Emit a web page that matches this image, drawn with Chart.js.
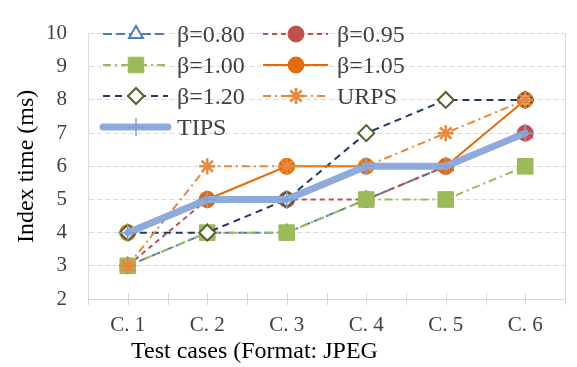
<!DOCTYPE html>
<html>
<head>
<meta charset="utf-8">
<script src="https://cdn.jsdelivr.net/npm/chart.js@4/dist/chart.umd.min.js"></script>
<style>
  html, body { margin: 0; padding: 0; background: #fff; }
  #wrap { width: 577px; height: 367px; position: relative; }
</style>
</head>
<body>
<div id="wrap"><canvas id="chart"></canvas></div>
<script>
/* ================= DATA ================= */
const categories = ["C. 1", "C. 2", "C. 3", "C. 4", "C. 5", "C. 6"];
const beta080 = [3, 4, 4, 5, 6, 7];
const beta095 = [3, 5, 5, 5, 6, 7];
const beta100 = [3, 4, 4, 5, 5, 6];
const beta105 = [4, 5, 6, 6, 6, 8];
const beta120 = [4, 4, 5, 7, 8, 8];
const urps    = [3, 6, 6, 6, 7, 8];
const tips    = [4, 5, 5, 6, 6, 7];
const yMin = 2, yMax = 10, yStep = 1;

/* ================= STYLE ================= */
const FONT = "'Liberation Serif', 'Times New Roman', serif";
const GRID = "#d9d9d9";
const TEXT = "#404040";

function series(label, data, color, dash, style, radius, fill, border, bw) {
  return {
    label, data,
    borderColor: color,
    borderWidth: 2,
    borderDash: dash,
    pointStyle: style,
    pointRadius: radius,
    pointHoverRadius: radius,
    pointBackgroundColor: fill,
    pointBorderColor: border,
    pointBorderWidth: bw,
    tension: 0,
    fill: false
  };
}

const datasets = [
  series("β=0.80", beta080, "#4a7ebb", [9, 4], "triangle", 8, "#ffffff", "#4a7ebb", 2),
  series("β=0.95", beta095, "#c0504d", [5, 4], "circle", 8, "#c0504d", "#c0504d", 1),
  series("β=1.00", beta100, "#9bbb59", [8, 4, 2, 4], "rect", 11, "#9bbb59", "#9bbb59", 1),
  series("β=1.05", beta105, "#e46c0a", [], "circle", 8, "#e46c0a", "#e46c0a", 1),
  series("β=1.20", beta120, "#1f3864", [7, 5], "rectRot", 8, "#ffffff", "#4f6228", 2),
  series("URPS", urps, "#e8883a", [8, 4, 2, 4], "star", 8, "#e8883a", "#e8883a", 2.5),
  series("TIPS", tips, "#8faadc", [], "cross", 9, "#7f9fd6", "#7f9fd6", 1.5)
];
datasets[6].borderWidth = 7;
datasets[6].borderCapStyle = "round";
datasets[6].borderJoinStyle = "round";
// later series are painted on top, like the original
datasets.forEach((d, i) => { d.order = datasets.length - i; });

/* ================= PLUGINS ================= */
const frame = {
  id: "frame",
  afterDraw(chart) {
    const { ctx, chartArea: a } = chart;
    ctx.save();
    ctx.strokeStyle = GRID;
    ctx.lineWidth = 1;
    ctx.setLineDash([]);
    ctx.beginPath();
    ctx.moveTo(a.right + 0.5, a.top);
    ctx.lineTo(a.right + 0.5, a.bottom);
    const step = (a.right - a.left) / (categories.length * 2);
    for (let k = 1; k <= categories.length * 2; k++) {
      const x = Math.round(a.left + k * step) + 0.5;
      ctx.moveTo(x, a.bottom - 6);
      ctx.lineTo(x, a.bottom + 6);
    }
    ctx.moveTo(a.left + 0.5, a.bottom);
    ctx.lineTo(a.left + 0.5, a.bottom + 6);
    ctx.stroke();

    ctx.fillStyle = "#000";
    ctx.font = "24px " + FONT;
    ctx.textBaseline = "middle";
    ctx.textAlign = "left";
    ctx.fillText("Test cases (Format: JPEG", a.left + 43, 352);
    ctx.restore();
  }
};

const legendBox = {
  id: "legendBox",
  afterDraw(chart) {
    const { ctx } = chart;
    const colX = [103, 263];
    ctx.save();
    datasets.forEach((d, i) => {
      const x0 = colX[i % 2];
      const y = 34 + Math.floor(i / 2) * 31;
      ctx.strokeStyle = d.borderColor;
      ctx.lineWidth = d.borderWidth;
      ctx.lineCap = d.borderCapStyle || "butt";
      ctx.setLineDash(d.borderDash);
      ctx.beginPath();
      ctx.moveTo(x0, y);
      ctx.lineTo(x0 + 65, y);
      ctx.stroke();
      ctx.setLineDash([]);
      ctx.lineCap = "butt";
      ctx.fillStyle = d.pointBackgroundColor;
      ctx.strokeStyle = d.pointBorderColor;
      ctx.lineWidth = d.pointBorderWidth;
      Chart.helpers.drawPoint(ctx, {
        pointStyle: d.pointStyle, radius: d.pointRadius,
        borderWidth: d.pointBorderWidth, rotation: 0
      }, x0 + 33, y);
      ctx.fillStyle = TEXT;
      ctx.font = "24px " + FONT;
      ctx.textBaseline = "middle";
      ctx.textAlign = "left";
      ctx.fillText(d.label, x0 + 74, y + 2);
    });
    ctx.restore();
  }
};

/* ================= CHART ================= */
new Chart(document.getElementById("chart"), {
  type: "line",
  data: { labels: categories, datasets },
  options: {
    responsive: true,
    maintainAspectRatio: false,
    animation: false,
    layout: { padding: { top: 16, right: 2, left: 0, bottom: 0 } },
    plugins: { legend: { display: false }, tooltip: { enabled: false } },
    scales: {
      x: {
        offset: true,
        grid: { display: false, drawTicks: false },
        border: { display: true, color: GRID, width: 1 },
        ticks: { color: TEXT, font: { family: FONT, size: 21 }, padding: 14, maxRotation: 0 },
        afterFit(s) { s.height = 68; }
      },
      y: {
        min: yMin, max: yMax,
        grid: { color: GRID, lineWidth: 1, drawTicks: false },
        border: { display: true, color: GRID, width: 1, dash: [5, 3] },
        ticks: { stepSize: yStep, color: TEXT, font: { family: FONT, size: 21 }, padding: 21 },
        title: {
          display: true, text: "Index time (ms)", color: "#000",
          font: { family: FONT, size: 24 }, padding: { top: 12, bottom: 0 }
        },
        afterFit(s) { s.width = 88; }
      }
    }
  },
  plugins: [frame, legendBox]
});
</script>
</body>
</html>
